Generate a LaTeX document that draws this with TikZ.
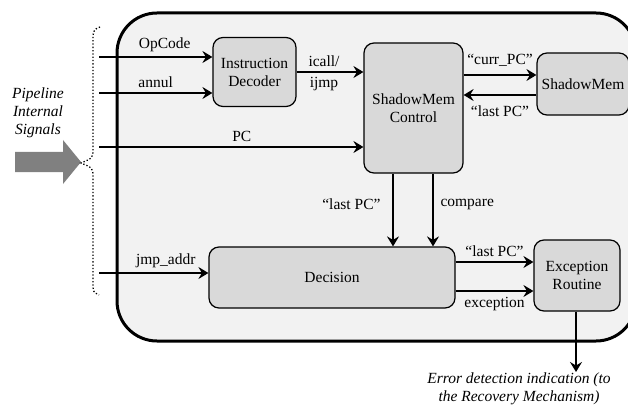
\documentclass[tikz,border=0pt]{standalone}
\usepackage{fontspec}
\setmainfont{Liberation Serif}
\usepackage{xcolor}
\usetikzlibrary{arrows.meta,positioning}

\definecolor{outgray}{HTML}{F2F2F2}
\definecolor{blkgray}{HTML}{D9D9D9}
\definecolor{arrgray}{HTML}{808080}

\tikzset{
  blk/.style={draw,rounded corners=10pt,fill=blkgray,line width=1.2pt,align=center,inner sep=0pt},
  sig/.style={line width=2.4pt,-{Stealth[length=10pt,width=12pt,inset=3.5pt]}},
}

\begin{document}
\begin{tikzpicture}[x=1pt,y=-1pt,font=\fontsize{15.5}{18}\selectfont]
\def \R {40pt};
\useasboundingbox (0,0) rectangle (628,406);

% outer frame
\draw[line width=3pt,fill=outgray,rounded corners=\R] (117,13) rectangle (636,341);

% blocks
\node[blk,minimum width=83pt,minimum height=69pt] (idec) at (254.5,72) {Instruction\\Decoder};
\node[blk,minimum width=99pt,minimum height=130pt] (smc) at (413.5,108) {ShadowMem\\Control};
\node[blk,minimum width=92pt,minimum height=62pt] (smem) at (583,84) {ShadowMem};
\node[blk,minimum width=246pt,minimum height=61pt] (dcs) at (332,277.5) {Decision};
\node[blk,minimum width=86pt,minimum height=71pt] (exc) at (577,275.5) {Exception\\Routine};

% pipeline signals
\fill[arrgray] (15,152) -- (63,152) -- (63,140) -- (81,162) -- (63,184) -- (63,172) -- (15,172) -- cycle;
\node[align=center,font=\fontsize{15.5}{18}\selectfont\itshape] (pis) at (38,113) {Pipeline\\Internal\\Signals};
\draw[line width=1.3pt,dotted] (100,27) .. controls (93,30) .. (93,45) -- (93,148)
  .. controls (93,158) .. (81,163) .. controls (93,168) .. (93,178) -- (93,282)
  .. controls (93,292) .. (99,295);

\foreach \n/\y in {op/57,an/93,pc/147,ja/273}
{
\coordinate (\n) at (99,\y);
}

% inputs
\draw[sig] (op) -- (op -| idec.west) node[pos=0.58,above=1pt] {OpCode};
\draw[sig] (an) -- (an -| idec.west) node[pos=0.5,above=1pt] {annul};
\draw[sig] (pc) -- (pc -| smc.west) node[pos=0.54,above=1pt] {PC};
\draw[sig] (ja) -- (ja -| dcs.west) node[pos=0.61,above=1pt] {jmp\_addr};

% internal signals
\draw[sig] (idec.east) -- (idec.east -| smc.west)
  node[pos=0.41,above=1pt] {icall/} node[pos=0.41,below=1pt] {ijmp};
\draw[sig] (smc.east |- 0,75) -- (smem.west |- 0,75) node[midway,above=4pt] {“curr\_PC”};
\draw[sig] (smem.west |- 0,95) -- (smc.east |- 0,95) node[midway,below=6pt] {“last PC”};
\draw[sig] (smc.south -| 393,0) -- (dcs.north -| 393,0) node[pos=0.42,left=8pt] {“last PC”};
\draw[sig] (smc.south -| 433,0) -- (dcs.north -| 433,0) node[pos=0.42,right=3pt] {compare};
\draw[sig] (dcs.east |- 0,262) -- (exc.west |- 0,262) node[midway,above=1pt] {“last PC”};
\draw[sig] (dcs.east |- 0,291) -- (exc.west |- 0,291) node[midway,below=2pt] {exception};

% output
\coordinate (out) at (576,372);
\draw[sig] (exc.south -| out) -- (out);
\node[align=center,font=\fontsize{15.5}{17.5}\selectfont\itshape,anchor=north,inner sep=1pt] (err) at (519,372) {Error detection indication (to\\the Recovery Mechanism)};

\end{tikzpicture}
\end{document}
